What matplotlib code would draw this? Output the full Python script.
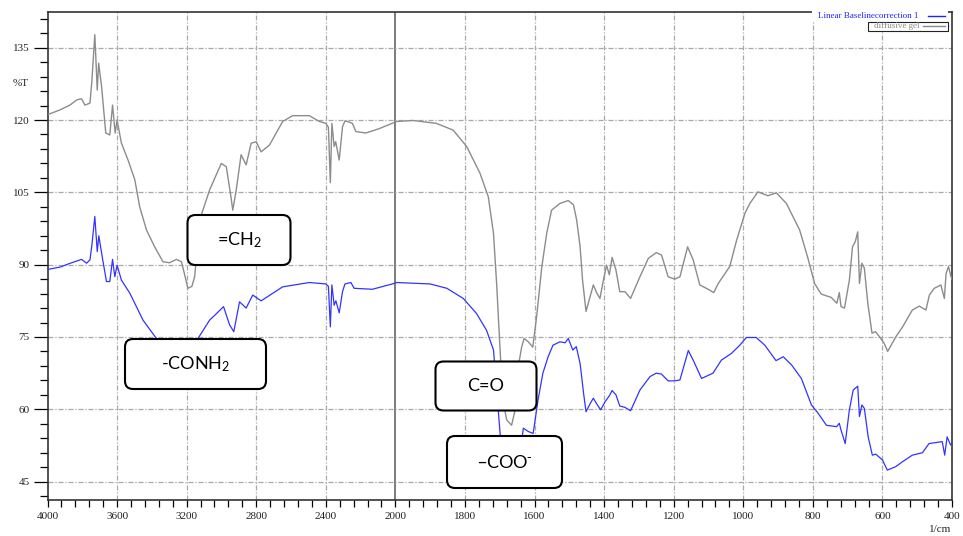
import numpy as np
import matplotlib
matplotlib.use("Agg")
import matplotlib.pyplot as plt
from matplotlib.patches import FancyBboxPatch, Rectangle
from matplotlib.lines import Line2D
from matplotlib.ticker import FixedLocator, NullFormatter

# spectrum of the gel (grey) - wavenumber (1/cm) and %T
gray_wn = [4000, 3928, 3871, 3830, 3804, 3785, 3756, 3745, 3728, 3714, 3706, 3689, 3665, 3642,
           3626, 3611, 3600, 3575, 3537, 3498, 3470, 3431, 3384, 3336, 3298, 3259, 3230, 3212,
           3193, 3170, 3154, 3125, 3068, 3001, 2972, 2945, 2935, 2915, 2887, 2858, 2829, 2800,
           2772, 2724, 2648, 2591, 2495, 2437, 2399, 2385, 2374, 2365, 2352, 2343, 2323, 2304,
           2290, 2275, 2247, 2227, 2170, 2094, 1996, 1949, 1882, 1834, 1795, 1757, 1733, 1718,
           1709, 1699, 1691, 1680, 1666, 1656, 1647, 1637, 1630, 1618, 1605, 1594, 1579, 1565,
           1551, 1527, 1503, 1488, 1479, 1469, 1462, 1452, 1440, 1431, 1421, 1412, 1402, 1393,
           1385, 1377, 1366, 1355, 1340, 1324, 1297, 1273, 1250, 1235, 1216, 1197, 1182, 1160,
           1144, 1125, 1101, 1085, 1072, 1039, 1019, 995, 981, 958, 929, 905, 876, 838, 814,
           795, 776, 747, 731, 724, 719, 709, 695, 686, 678, 671, 666, 659, 652, 642, 630, 620,
           609, 595, 585, 561, 542, 514, 494, 475, 465, 451, 432, 422, 417, 410, 403, 400]
gray_t = [121.1, 122.1, 123.1, 124.2, 124.4, 123.1, 123.5, 128.0, 137.7, 126.2, 131.8, 126.9, 117.3, 116.9,
          123.1, 117.3, 120.0, 115.2, 111.7, 107.6, 102.0, 97.2, 93.7, 90.6, 90.4, 91.1, 90.6, 88.0,
          85.1, 85.5, 87.5, 99.3, 105.5, 111.0, 110.3, 104.0, 101.3, 105.5, 112.8, 110.7, 115.2, 115.5,
          113.4, 114.8, 119.7, 120.9, 120.9, 119.7, 119.3, 118.5, 107.0, 119.3, 114.5, 115.5, 111.7, 118.6,
          119.8, 119.7, 119.3, 117.6, 117.3, 118.2, 119.7, 119.9, 119.3, 117.9, 114.5, 109.0, 104.1, 96.5,
          86.1, 72.3, 61.9, 57.8, 56.7, 59.8, 68.8, 72.9, 74.7, 74.0, 72.9, 79.2, 89.6, 96.5,
          101.3, 102.7, 103.3, 102.4, 99.3, 93.7, 86.8, 80.3, 83.4, 85.8, 84.1, 83.0, 86.8, 89.9,
          87.9, 91.5, 88.9, 84.4, 84.4, 83.0, 87.5, 91.3, 92.5, 92.0, 87.5, 87.0, 87.5, 93.7,
          91.0, 85.8, 84.9, 84.2, 86.1, 89.6, 95.1, 100.7, 102.7, 105.1, 104.3, 104.9, 102.7, 97.2, 91.3,
          86.1, 83.9, 83.2, 82.0, 84.2, 81.3, 81.0, 86.8, 93.7, 94.8, 96.8, 86.1, 90.3, 89.3, 82.0, 75.8, 76.1,
          75.1, 73.7, 72.0, 75.1, 77.1, 80.6, 81.4, 80.6, 83.7, 85.1, 85.8, 83.0, 88.2, 89.6, 87.5, 87.0]

# baseline corrected spectrum (blue)
blue_wn = [4000, 3928, 3861, 3804, 3775, 3756, 3745, 3728, 3714, 3705, 3689, 3661, 3642, 3626,
           3613, 3600, 3575, 3527, 3489, 3451, 3374, 3300, 3250, 3200, 3135, 3068, 3030, 2988,
           2953, 2929, 2896, 2858, 2820, 2772, 2648, 2495, 2399, 2385, 2374, 2365, 2352, 2342,
           2323, 2304, 2290, 2256, 2237, 2132, 2018, 1996, 1900, 1852, 1805, 1767, 1738, 1718,
           1709, 1699, 1690, 1680, 1665, 1650, 1640, 1632, 1618, 1604, 1590, 1576, 1561, 1547,
           1527, 1512, 1503, 1490, 1480, 1469, 1459, 1452, 1440, 1431, 1421, 1410, 1397, 1385,
           1377, 1366, 1355, 1340, 1324, 1297, 1268, 1250, 1235, 1216, 1197, 1182, 1158, 1142,
           1120, 1087, 1063, 1034, 1010, 991, 963, 938, 906, 885, 861, 833, 804, 785, 761, 732,
           724, 719, 707, 695, 684, 671, 666, 659, 652, 641, 629, 619, 600, 586, 562, 543, 514,
           485, 466, 447, 428, 421, 414, 404, 400]
blue_t = [89.0, 89.5, 90.4, 91.1, 90.3, 91.0, 94.0, 100.0, 92.7, 96.0, 92.4, 86.5, 86.5, 91.1,
          87.5, 89.9, 86.8, 84.1, 81.3, 78.5, 74.7, 70.5, 69.5, 70.5, 74.7, 78.5, 79.8, 81.3,
          77.5, 76.1, 82.3, 81.0, 83.7, 82.5, 85.4, 86.3, 86.0, 85.5, 77.1, 85.8, 81.6, 82.5,
          80.0, 84.4, 86.0, 86.3, 85.1, 84.9, 86.0, 86.3, 86.0, 85.1, 83.0, 79.9, 76.4, 72.3,
          64.0, 55.0, 48.5, 46.5, 46.0, 47.0, 52.0, 56.1, 55.4, 55.0, 61.9, 67.5, 70.9, 73.3,
          74.0, 73.8, 74.7, 72.3, 73.0, 69.5, 63.3, 59.5, 61.2, 62.3, 61.1, 59.9, 61.6, 62.8,
          63.9, 63.0, 60.7, 60.4, 59.7, 64.0, 66.8, 67.5, 67.3, 65.9, 65.9, 66.1, 72.2, 69.9,
          66.4, 67.5, 70.2, 71.6, 73.3, 74.9, 74.9, 73.3, 70.1, 70.9, 69.2, 66.4, 60.9, 59.2, 56.7, 56.4,
          57.1, 55.7, 52.9, 59.9, 64.0, 64.8, 58.5, 60.9, 60.2, 54.3, 50.5, 50.7, 49.5, 47.4, 48.1, 49.1, 50.5,
          51.0, 52.9, 53.1, 53.3, 50.5, 54.3, 52.6, 53.0]

x_major = [4000, 3600, 3200, 2800, 2400, 2000, 1800, 1600, 1400, 1200, 1000, 800, 600, 400]
y_major = [45, 60, 75, 90, 105, 120, 135]

# band labels: text, box centre and size in pixels of the 963x536 picture
labels = ["=CH$_2$", "-CONH$_2$", "C=O", "\u2013COO$^{\\text{-}}$"]
label_boxes = [(239, 240, 103, 50), (195.5, 364, 141, 50), (486, 386, 101, 49), (504.5, 462, 115, 52)]

plt.rcParams["mathtext.default"] = "regular"

W, H = 963, 536
fig = plt.figure(figsize=(W / 100, H / 100), dpi=100)
ax = fig.add_axes([47.5 / W, (H - 499.5) / H, 904.5 / W, 487.5 / H])


# shimadzu style axis: below 2000 1/cm the scale is doubled
def fwd(x):
    x = np.asarray(x, dtype=float)
    return np.where(x >= 2000, x, 2 * x - 2000)


def inv(u):
    u = np.asarray(u, dtype=float)
    return np.where(u >= 2000, u, (u + 2000) / 2)


ax.set_xscale("function", functions=(fwd, inv))
ax.set_xlim(4000, 400)
ax.set_ylim(41.3, 142.4)

ax.plot(gray_wn, gray_t, color="#8c8c8c", lw=1.0, zorder=3)
ax.plot(blue_wn, blue_t, color="#3333ff", lw=0.9, zorder=3)

# ticks
x_minor = [v for v in list(range(4000, 2000, -80)) + list(range(2000, 399, -40)) if v not in x_major]
ax.xaxis.set_major_locator(FixedLocator(x_major))
ax.xaxis.set_minor_locator(FixedLocator(x_minor))
ax.xaxis.set_minor_formatter(NullFormatter())
ax.yaxis.set_major_locator(FixedLocator(y_major))
y_minor = [v for v in range(42, 142, 3) if v not in y_major]
ax.yaxis.set_minor_locator(FixedLocator(y_minor))
ax.set_xticklabels([str(v) for v in x_major])
ax.set_yticklabels([str(v) for v in y_major])

tick_font = {"family": "Liberation Serif", "size": 8}
for lab in ax.get_xticklabels() + ax.get_yticklabels():
    lab.set_fontfamily("Liberation Serif")
    lab.set_fontsize(8)
    lab.set_color("#222222")
ax.tick_params(axis="y", which="major", length=10, width=0.9, pad=3, direction="out")
ax.tick_params(axis="y", which="minor", length=6, width=0.9, direction="out")
ax.tick_params(axis="x", which="both", length=5, width=0.9, pad=4, direction="out")

# fine dash-dot grid, solid line at the scale change
grid_ls = (0, (4, 1.5, 1, 1.5))
for v in x_major[1:-1]:
    if v == 2000:
        ax.axvline(v, color="#666666", lw=1.2, zorder=1)
    else:
        ax.axvline(v, color="#a8a8a8", lw=0.9, ls=grid_ls, zorder=1)
for v in y_major:
    ax.axhline(v, color="#a8a8a8", lw=0.9, ls=grid_ls, zorder=1)

for s in ax.spines.values():
    s.set_color("#333333")
    s.set_linewidth(1.2)

fig.text(21 / W, 1 - 83 / H, "%T", ha="center", va="center", fontdict=tick_font, color="#222222")
fig.text(940 / W, 1 - 530 / H, "1/cm", ha="center", va="center", fontdict=tick_font, color="#222222")

# rounded label boxes (coordinates in inches from the pixel positions)
for txt, (cx, cy, bw, bh) in zip(labels, label_boxes):
    x0 = (cx - bw / 2) / 100
    y0 = (H - cy - bh / 2) / 100
    box = FancyBboxPatch((x0, y0), bw / 100, bh / 100,
                         boxstyle="round,pad=0,rounding_size=0.08",
                         transform=fig.dpi_scale_trans, facecolor="white",
                         edgecolor="black", lw=1.5, zorder=10)
    fig.add_artist(box)
    fig.text(cx / W, 1 - cy / H, txt, ha="center", va="center", fontsize=13,
             family=["Lato", "DejaVu Sans"], color="black", zorder=11)

# legend in the top right corner
fig.add_artist(Rectangle((812 / W, 1 - 21 / H), 136 / W, 12 / H, transform=fig.transFigure,
                         facecolor="white", edgecolor="none", zorder=12))
fig.text(918 / W, 1 - 16 / H, "Linear Baselinecorrection 1", ha="right", va="center",
         family="Liberation Serif", fontsize=6.5, color="#2222ff", zorder=13)
fig.add_artist(Line2D([928 / W, 945 / W], [1 - 15.5 / H, 1 - 15.5 / H], transform=fig.transFigure,
                      color="#2222ff", lw=1, zorder=13))
fig.add_artist(Rectangle((868 / W, 1 - 31 / H), 80 / W, 9.5 / H, transform=fig.transFigure,
                         facecolor="white", edgecolor="#222222", lw=0.8, zorder=12))
fig.text(874 / W, 1 - 26 / H, "diffusive gel", ha="left", va="center",
         family="Liberation Serif", fontsize=6.5, color="#888888", zorder=13)
fig.add_artist(Line2D([923 / W, 945 / W], [1 - 26 / H, 1 - 26 / H], transform=fig.transFigure,
                      color="#888888", lw=1, zorder=13))

fig.savefig("out.png", dpi=100)
